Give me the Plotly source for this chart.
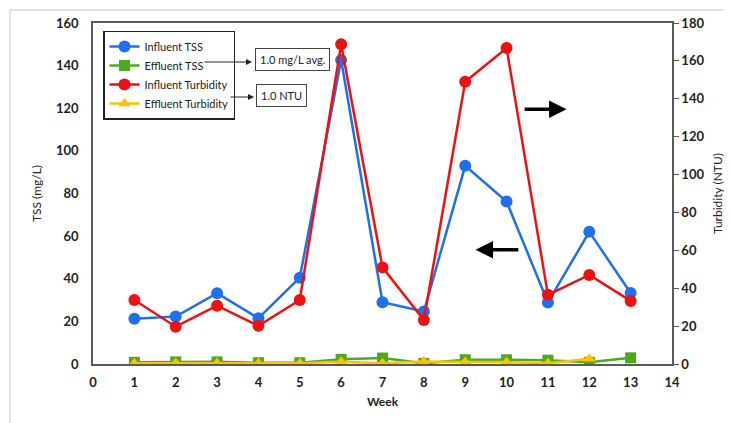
import plotly.graph_objects as go

weeks = [1, 2, 3, 4, 5, 6, 7, 8, 9, 10, 11, 12, 13]
influent_tss = [21.2, 22.3, 33.2, 21.5, 40.5, 142.6, 29.0, 24.6, 93.0, 76.2, 28.9, 62.0, 33.3]
effluent_tss = [0.8, 1.0, 1.0, 0.6, 0.6, 2.2, 2.8, 0.3, 2.0, 2.0, 1.8, 0.8, 2.9]
influent_turb = [33.8, 19.7, 30.8, 20.2, 33.8, 168.8, 51.0, 23.2, 149.0, 166.8, 36.5, 47.0, 33.3]
effluent_turb = [0.4, 0.5, 0.5, 0.4, 0.4, 1.2, 0.4, 1.3, 1.0, 1.0, 0.4, 2.8, None]

FONT = "Lato"
AXC = "#595959"

fig = go.Figure()
fig.add_trace(go.Scatter(x=weeks, y=influent_tss, name="Influent TSS", mode="lines+markers",
                         line=dict(color="#1F6FEF", width=2.5), marker=dict(symbol="circle", size=12)))
fig.add_trace(go.Scatter(x=weeks, y=effluent_tss, name="Effluent TSS", mode="lines+markers",
                         line=dict(color="#4DAA1F", width=2.5), marker=dict(symbol="square", size=11)))
fig.add_trace(go.Scatter(x=weeks, y=influent_turb, name="Influent Turbidity", mode="lines+markers",
                         yaxis="y2", line=dict(color="#EE1111", width=2.5), marker=dict(symbol="circle", size=12)))
fig.add_trace(go.Scatter(x=weeks, y=effluent_turb, name="Effluent Turbidity", mode="lines+markers",
                         yaxis="y2", line=dict(color="#FFC000", width=2.5), marker=dict(symbol="triangle-up", size=11)))

tickfont = dict(family=FONT, size=13, color="#222", weight="bold")
ytitlefont = dict(family=FONT, size=12, color="#222")
xtitlefont = dict(family=FONT, size=12, color="#222", weight="bold")

# The page body has an 8px margin, so the figure is 8px smaller and margins compensate.
fig.update_layout(
    width=724, height=415,
    margin=dict(l=85, r=60, t=15, b=59, autoexpand=False),
    paper_bgcolor="white", plot_bgcolor="white",
    font=dict(family=FONT),
    xaxis=dict(range=[0, 14], dtick=1, tick0=0, showgrid=False, zeroline=False,
               showline=True, linecolor=AXC, linewidth=1.5, mirror=True,
               ticks="outside", ticklen=6, tickcolor="rgba(0,0,0,0)",
               tickfont=tickfont, title=dict(text="Week", font=xtitlefont, standoff=8)),
    yaxis=dict(range=[0, 160], dtick=20, showgrid=False, zeroline=False,
               showline=True, linecolor=AXC, linewidth=1.5,
               ticks="outside", ticklen=10, tickcolor="rgba(0,0,0,0)",
               tickfont=tickfont, title=dict(text="TSS (mg/L)", font=ytitlefont, standoff=12)),
    yaxis2=dict(range=[0, 180], dtick=20, overlaying="y", side="right", showgrid=False,
                zeroline=False, showline=True, linecolor=AXC, linewidth=1.5,
                ticks="outside", ticklen=5, tickcolor=AXC,
                tickfont=tickfont, title=dict(text="Turbidity (NTU)", font=ytitlefont, standoff=10)),
    legend=dict(x=0.0173, y=0.978, xanchor="left", yanchor="top",
                bordercolor="#222", borderwidth=1.5, bgcolor="white",
                font=dict(family=FONT, size=11, color="#222"),
                itemwidth=30, tracegroupgap=0),
    showlegend=True,
)

def px2x(px):
    return (px - 93) / 579.0

def py2y(py):
    return (364 - py) / 341.0

# Text boxes
fig.add_annotation(xref="paper", yref="paper", x=px2x(292.5), y=py2y(59), text="1.0 mg/L avg.",
                   xanchor="center", yanchor="middle",
                   showarrow=False, bordercolor="#444", borderwidth=1, borderpad=4, bgcolor="white",
                   font=dict(family=FONT, size=11, color="#222"))
fig.add_annotation(xref="paper", yref="paper", x=px2x(281), y=py2y(95.5), text="1.0 NTU",
                   xanchor="center", yanchor="middle",
                   showarrow=False, bordercolor="#444", borderwidth=1, borderpad=4, bgcolor="white",
                   font=dict(family=FONT, size=11, color="#222"))
# Connector arrows from legend to boxes
fig.add_annotation(xref="paper", yref="paper", x=px2x(252), y=py2y(62), axref="pixel", ayref="pixel",
                   ax=-49, ay=0, text="", showarrow=True, arrowhead=2, arrowsize=1.2, arrowwidth=1,
                   arrowcolor="#222", standoff=0)
fig.add_annotation(xref="paper", yref="paper", x=px2x(254), y=py2y(97), axref="pixel", ayref="pixel",
                   ax=-25, ay=0, text="", showarrow=True, arrowhead=2, arrowsize=1.2, arrowwidth=1,
                   arrowcolor="#222", standoff=0)

# Direction arrows in plot
fig.add_annotation(xref="x", yref="y", axref="x", ayref="y", x=11.45, y=119.5, ax=10.4, ay=119.5,
                   text="", showarrow=True, arrowhead=2, arrowsize=1, arrowwidth=3.5, arrowcolor="black")
fig.add_annotation(xref="x", yref="y", axref="x", ayref="y", x=9.25, y=53.6, ax=10.32, ay=53.6,
                   text="", showarrow=True, arrowhead=2, arrowsize=1, arrowwidth=3.5, arrowcolor="black")

# light outer frame
fig.add_shape(type="rect", xref="paper", yref="paper", x0=px2x(10), x1=px2x(760),
              y0=py2y(440), y1=py2y(10), line=dict(color="#D9D9D9", width=1.5), layer="below")

fig.write_html("out.html")
